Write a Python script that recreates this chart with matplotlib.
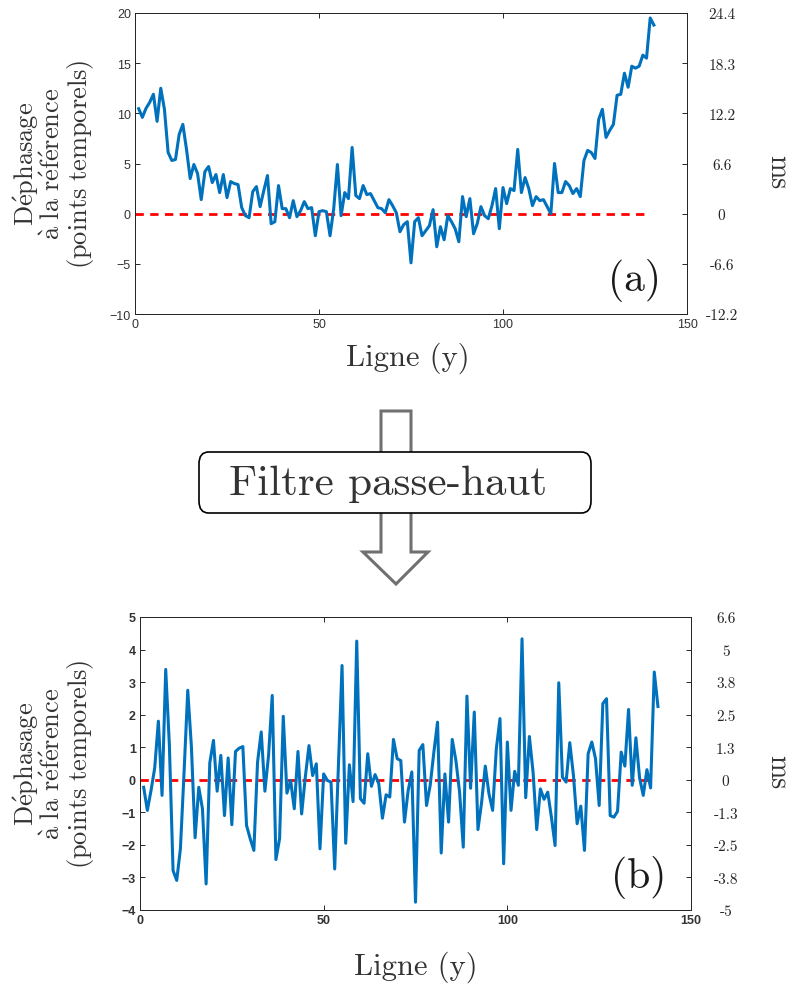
import numpy as np
import matplotlib.pyplot as plt
from matplotlib.patches import Polygon, FancyBboxPatch

plt.rcParams['mathtext.fontset'] = 'cm'

# Data
ligne = np.arange(1, 142)
dephasage_brut = [
    10.46, 9.6, 10.5, 11.1, 11.9, 9.2, 12.5, 10.4, 6.1, 5.3,
    5.4, 7.9, 8.9, 6.4, 3.5, 4.9, 4.0, 1.4, 4.2, 4.7,
    3.1, 3.9, 2.1, 3.9, 1.6, 3.2, 3.0, 2.9, 0.6, -0.2,
    -0.4, 2.2, 2.7, 0.7, 2.3, 3.8, -1.0, -0.8, 2.8, 0.5,
    0.5, -0.4, 1.3, -0.3, 0.3, 1.2, 0.5, 0.6, -2.2, 0.2,
    0.3, 0.2, -2.2, 0.5, 4.9, -0.2, 2.1, 1.5, 6.6, 1.8,
    1.5, 2.8, 1.9, 2.0, 1.3, 0.6, 0.5, 0.1, 1.4, 0.8,
    0.1, -1.8, -1.1, -0.8, -4.9, -0.8, -0.4, -2.2, -1.7, -1.2,
    0.4, -3.3, -1.3, -2.6, -0.2, -0.8, -1.5, -2.8, 1.7, -0.3,
    1.5, -2.0, -1.0, 0.7, -0.2, -0.5, 0.8, 2.5, -1.5, 2.6,
    1.0, 2.5, 2.3, 6.4, 2.1, 3.6, 2.5, 0.8, 1.7, 1.3,
    1.4, 0.7, 0.0, 5.0, 2.1, 2.1, 3.2, 2.8, 2.0, 2.5,
    1.7, 5.3, 6.3, 6.1, 5.5, 9.4, 10.4, 7.6, 8.3, 8.9,
    11.8, 11.9, 14.0, 12.6, 14.7, 14.5, 14.7, 15.8, 15.5, 19.5,
    18.8,
]
dephasage_filtre = [
    -0.23, -0.94, -0.33, 0.36, 1.8, -0.48, 3.39, 1.05, -2.79, -3.09,
    -2.12, 0.24, 2.75, 1.0, -1.78, -0.23, -0.89, -3.2, 0.52, 1.21,
    -0.35, 0.75, -1.1, 0.67, -1.38, 0.87, 0.97, 1.02, -1.4, -1.81,
    -2.17, 0.54, 1.47, -0.35, 0.75, 2.59, -2.45, -1.81, 1.95, -0.41,
    -0.02, -0.89, 0.87, -1.05, 0.08, 1.05, 0.13, 0.49, -2.12, 0.18,
    -0.02, -0.07, -2.74, 0.4, 3.51, -1.95, 0.46, -0.67, 4.26, -0.58,
    -0.72, 0.8, -0.2, 0.16, -0.12, -1.18, -0.46, -0.53, 1.24, 0.65,
    0.59, -1.3, -0.33, 0.24, -3.76, 0.9, 1.08, -0.79, -0.17, 0.85,
    1.77, -2.25, 0.18, -1.3, 1.24, 0.59, -0.38, -2.07, 2.57, -0.26,
    2.08, -1.53, -0.69, 0.42, -0.43, -0.94, 0.95, 1.88, -2.58, 1.16,
    -0.94, 0.26, -0.17, 4.33, -0.55, 1.33, 0.24, -1.53, -0.28, -0.6,
    -0.38, -1.15, -2.02, 2.98, 0.08, -0.07, 1.14, 0.13, -1.35, -0.81,
    -2.17, 0.8, 1.16, 0.65, -0.79, 2.34, 2.49, -1.1, -1.15, -0.97,
    0.85, 0.42, 2.16, -0.17, 1.29, 0.06, -0.48, 0.31, -0.25, 3.31,
    2.25,
]

ticks_a = [-10, -5, 0, 5, 10, 15, 20]
ms_a = ['-12.2', '-6.6', '0', '6.6', '12.2', '18.3', '24.4']
ticks_b = [-4, -3, -2, -1, 0, 1, 2, 3, 4, 5]
ms_b = ['-5', '-3.8', '-2.5', '-1.3', '0', '1.3', '2.5', '3.8', '5', '6.6']

W, H = 798, 987
BLUE = '#0072BD'
GREY = '#262626'


def px(x, y):
    return x / W, 1 - y / H


fig = plt.figure(figsize=(W / 100, H / 100), dpi=100)


def panel(rect, y, yticks, ms_labels, lettre, bold):
    ax = fig.add_axes(rect)
    ax.plot(ligne, y, color=BLUE, lw=2.2, zorder=3)
    ax.plot([0, 140], [0, 0], color='#FF0000', lw=2, ls=(0, (3, 2.3)), zorder=2)
    ax.set_xlim(0, 150)
    ax.set_xticks([0, 50, 100, 150])
    ax.set_ylim(yticks[0], yticks[-1])
    ax.set_yticks(yticks)
    ax.tick_params(direction='in', length=3.5, width=0.7, colors=GREY,
                   labelsize=9, top=True, right=False, pad=3)
    for lab in ax.get_xticklabels() + ax.get_yticklabels():
        lab.set_fontfamily('Liberation Sans')
        lab.set_color('#333333')
        if bold:
            lab.set_fontweight('bold')
    for s in ax.spines.values():
        s.set_color(GREY)
        s.set_linewidth(0.7)

    ax2 = ax.twinx()
    ax2.set_ylim(yticks[0], yticks[-1])
    ax2.set_yticks(yticks)
    ax2.set_yticklabels(ms_labels, fontfamily='cmr10', fontsize=11, color='#333333')
    ax2.tick_params(direction='in', length=3.5, width=0.7, colors=GREY, pad=25)
    for lab in ax2.get_yticklabels():
        lab.set_horizontalalignment('center')
    for s in ax2.spines.values():
        s.set_color(GREY)
        s.set_linewidth(0.7)

    ax.text(0.905, 0.115, lettre, transform=ax.transAxes, fontfamily='cmr10',
            fontsize=30, ha='center', va='center', color='#1a1a1a')
    return ax, ax2


ax_a, ax2_a = panel([135 / W, 1 - 315 / H, 552 / W, 301 / H], dephasage_brut,
                    ticks_a, ms_a, '(a)', False)
ax_b, ax2_b = panel([140 / W, 1 - 911 / H, 551 / W, 293 / H], dephasage_filtre,
                    ticks_b, ms_b, '(b)', True)

# axis labels
ylab = [r'$\mathrm{D\acute{e}phasage}$',
        r'$\mathrm{\grave{a}\ la\ r\acute{e}f\acute{e}rence}$',
        r'$\mathrm{(points\ temporels)}$']
for yc in (164, 764):
    for xc, t in zip((26, 53, 80), ylab):
        fig.text(*px(xc, yc), t, rotation=90, fontsize=19, ha='center',
                 va='center', color='#333333')
    fig.text(*px(777, yc + 8), 'ms', fontfamily='cmr10', fontsize=20,
             rotation=-90, ha='center', va='center', color='#333333')
fig.text(*px(408, 358), 'Ligne (y)', fontfamily='cmr10', fontsize=22,
         ha='center', va='center', color='#333333')
fig.text(*px(416, 967), 'Ligne (y)', fontfamily='cmr10', fontsize=22,
         ha='center', va='center', color='#333333')

# hollow arrow + box
fleche = [(381, 412), (411, 412), (411, 553), (428, 553), (396, 585),
          (363, 553), (381, 553)]
fig.patches.append(Polygon([px(*p) for p in fleche], closed=True,
                           transform=fig.transFigure, facecolor='white',
                           edgecolor='#707070', lw=2.2, zorder=1))
x0, y0 = px(199, 514)
x1, y1 = px(591, 453)
fig.patches.append(FancyBboxPatch((x0, y0), x1 - x0, y1 - y0,
                                  boxstyle='round,pad=0,rounding_size=0.012',
                                  transform=fig.transFigure, facecolor='white',
                                  edgecolor='black', lw=1.2, zorder=2))
fig.text(*px(388, 484), 'Filtre passe-haut', fontfamily='cmr10', fontsize=31,
         ha='center', va='center', color='#333333', zorder=3)

fig.savefig('out.png', dpi=100)
